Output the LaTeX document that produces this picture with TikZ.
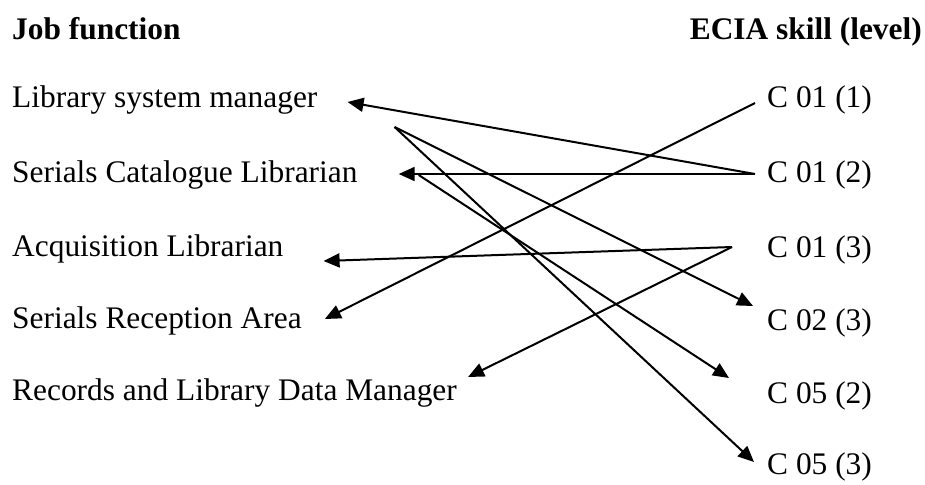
\documentclass[tikz,border=0pt]{standalone}
\usepackage{fontspec}
\setmainfont{Liberation Serif}
\usetikzlibrary{arrows.meta}

\begin{document}
\begin{tikzpicture}[
    x=1pt, y=-1pt,
    job/.style={inner sep=0pt, anchor=base west, font=\fontsize{31.4pt}{36pt}\selectfont},
    skill/.style={inner sep=0pt, anchor=base west, font=\fontsize{31.4pt}{36pt}\selectfont},
    head/.style={inner sep=0pt, font=\fontsize{31.4pt}{36pt}\selectfont\bfseries},
    link/.style={-{Triangle[length=16pt, width=14pt]}, line width=2pt},
    ]
        \useasboundingbox (0,0) rectangle (925,484);

        % column headers
        \node[head, anchor=base west] (hjob) at (12,40) {Job function};
        \node[head, anchor=base east] (hskill) at (922,40) {ECIA skill (level)};

        % job functions
        \node[job] (lsm) at (12,108) {Library system manager};
        \node[job] (scl) at (12,182) {Serials Catalogue Librarian};
        \node[job] (acq) at (12,256) {Acquisition Librarian};
        \node[job] (sra) at (12,328) {Serials Reception Area};
        \node[job] (rld) at (12,400) {Records and Library Data Manager};

        % skills
        \node[skill] (c011) at (767,108) {C 01 (1)};
        \node[skill] (c012) at (767,182) {C 01 (2)};
        \node[skill] (c013) at (767,257) {C 01 (3)};
        \node[skill] (c023) at (767,330) {C 02 (3)};
        \node[skill] (c052) at (767,403) {C 05 (2)};
        \node[skill] (c053) at (767,474) {C 05 (3)};

        \draw[link] ([xshift=-12pt, yshift=8pt] c012.base west) -- ([xshift=30pt, yshift=6pt] lsm.base east);
        \draw[link] ([xshift=-12pt, yshift=8pt] c012.base west) -- ([xshift=41pt, yshift=8pt] scl.base east);
        \draw[link] ([xshift=-12pt, yshift=5pt] c011.base west) -- ([xshift=23pt, yshift=9pt] sra.base east);
        \draw[link] ([xshift=-35pt, yshift=10pt] c013.base west) -- ([xshift=40pt, yshift=-5pt] acq.base east);
        \draw[link] ([xshift=-35pt, yshift=10pt] c013.base west) -- ([xshift=11pt, yshift=23pt] rld.base east);
        \draw[link] ([xshift=77pt, yshift=-19pt] lsm.base east) -- ([xshift=-14pt, yshift=24pt] c023.base west);
        \draw[link] ([xshift=77pt, yshift=-19pt] lsm.base east) -- ([xshift=-13pt, yshift=12pt] c053.base west);
        \draw[link] ([xshift=61pt, yshift=7pt] scl.base east) -- ([xshift=-38pt, yshift=25pt] c052.base west);
    \end{tikzpicture}
\end{document}
